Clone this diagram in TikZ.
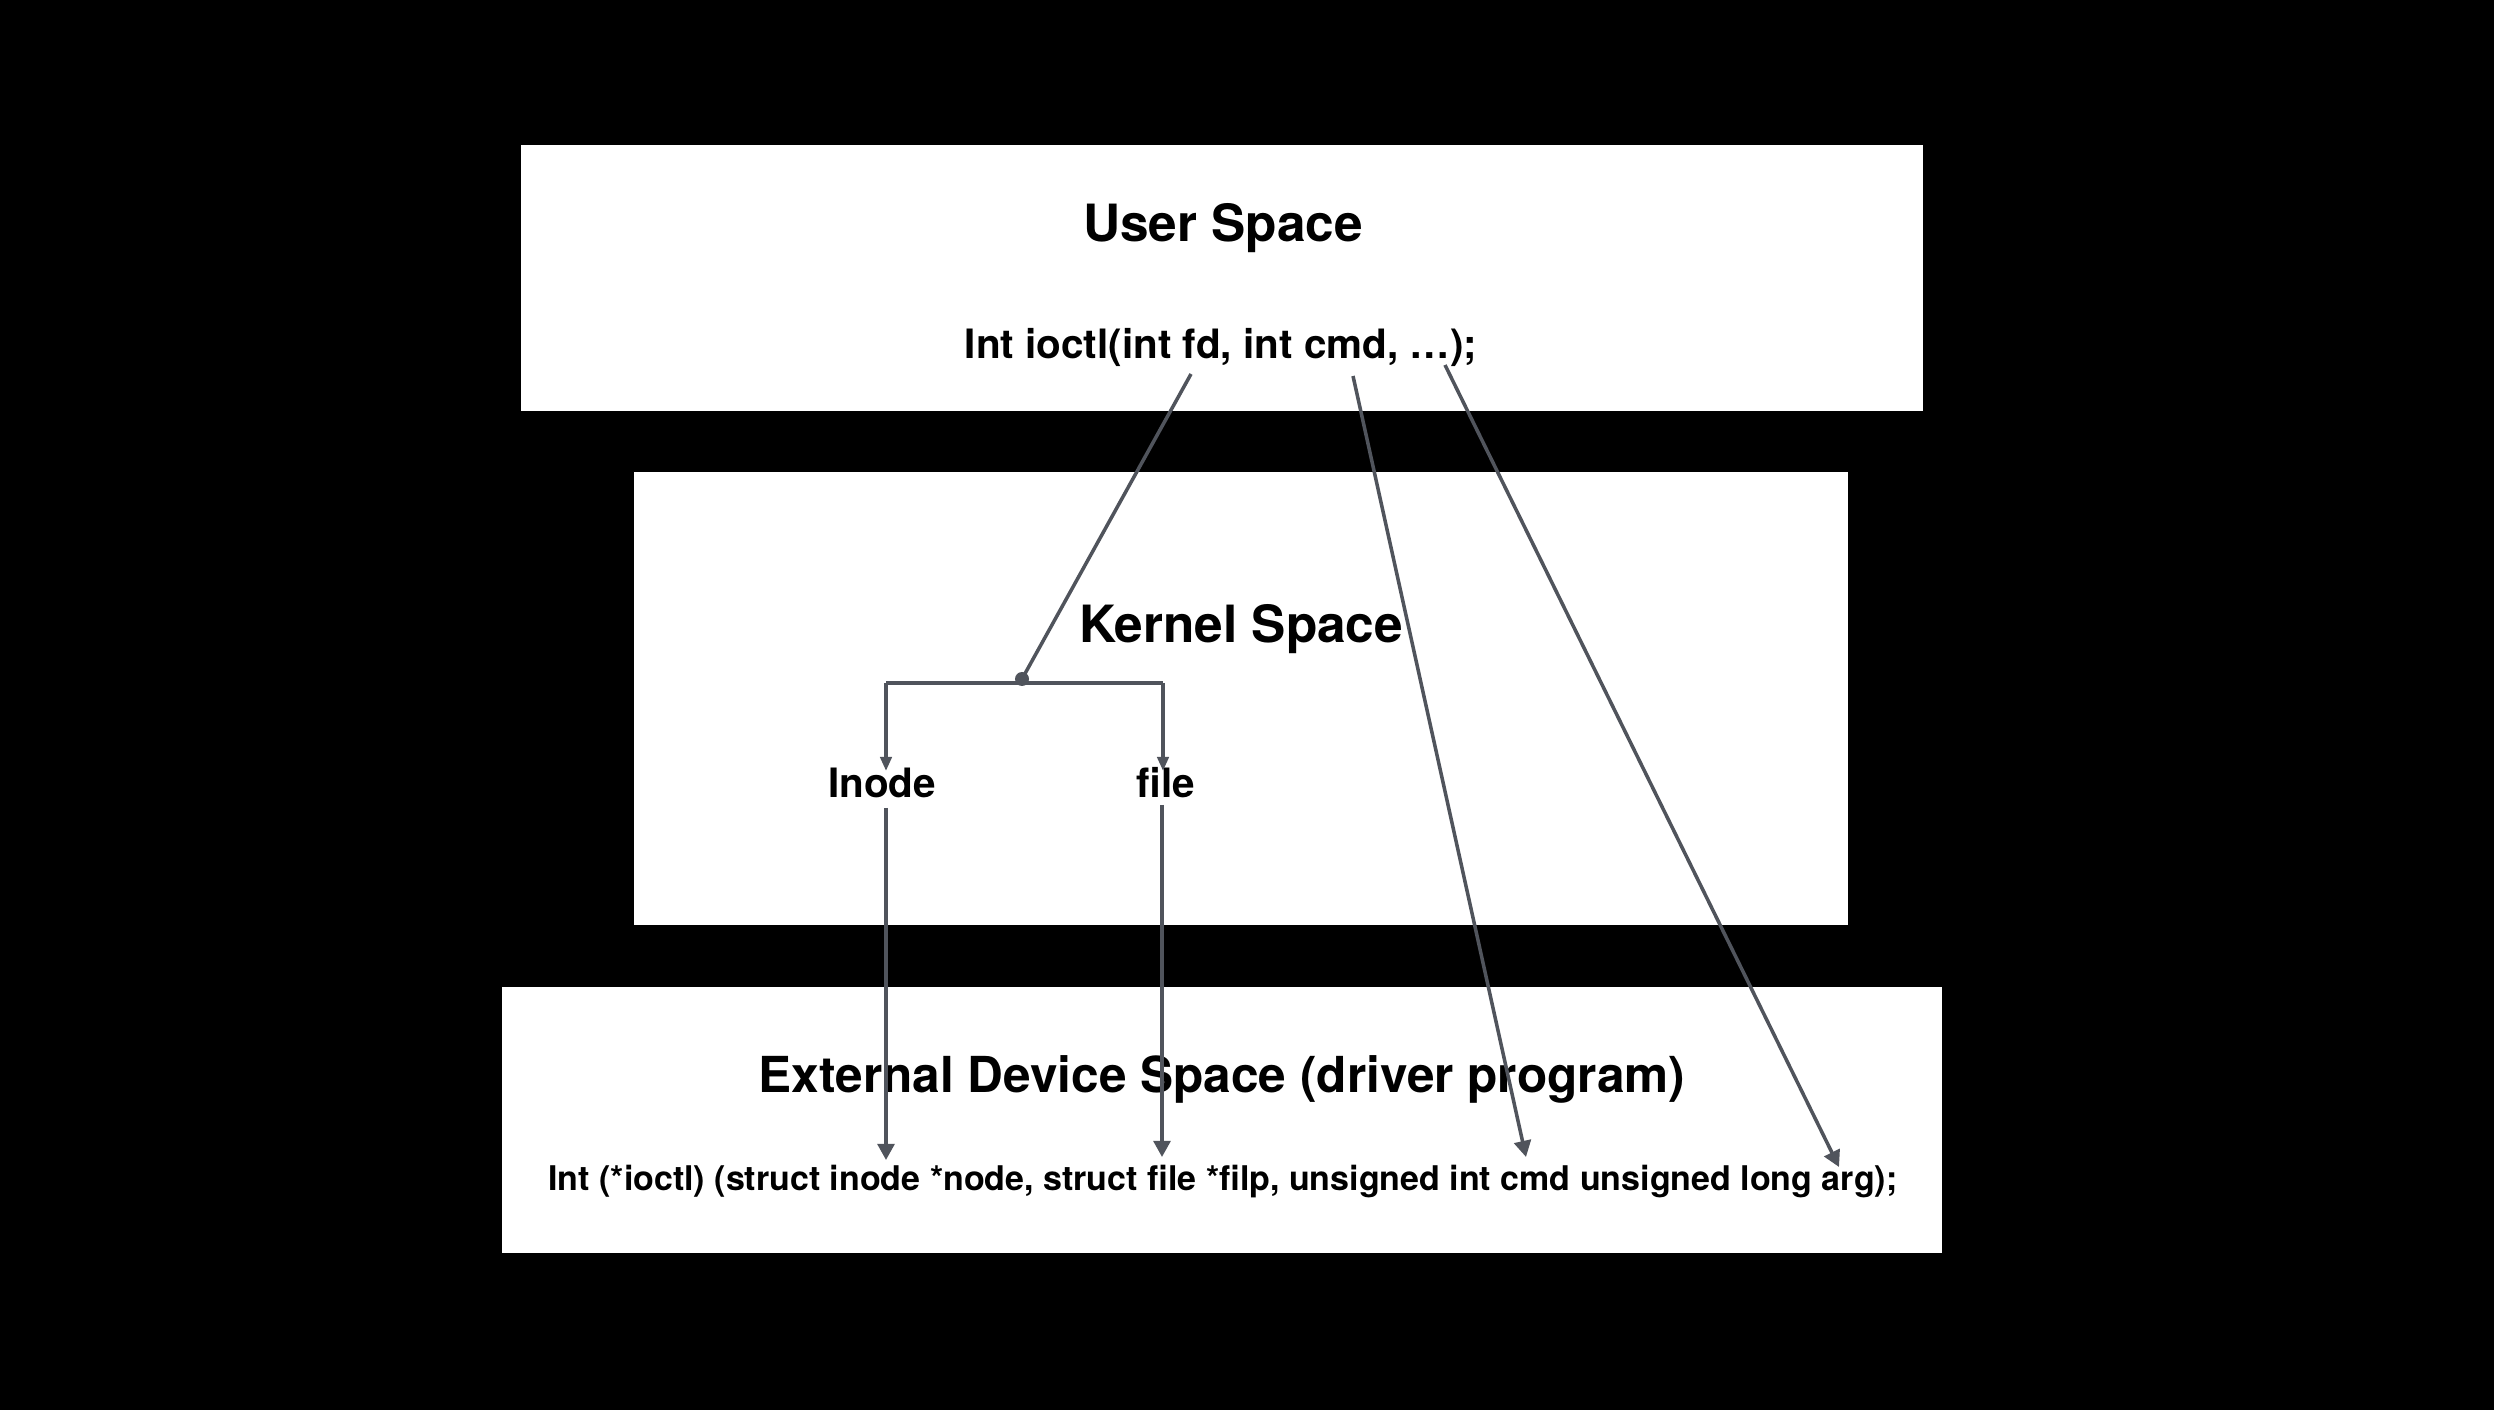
\documentclass[tikz,border=0pt]{standalone}
\usepackage{fontspec}
\setmainfont{TeX Gyre Heros}
\usetikzlibrary{arrows.meta}
\definecolor{linec}{RGB}{80,84,92}
\tikzset{
  panel/.style={fill=white,draw=none},
  lbl/.style={anchor=base,inner sep=0pt,text=black},
  title/.style={lbl,font=\fontsize{14.6pt}{16pt}\selectfont\bfseries},
  code/.style={lbl,font=\fontsize{11.5pt}{13pt}\selectfont\bfseries},
  smallcode/.style={lbl,font=\fontsize{9.67pt}{11pt}\selectfont\bfseries},
  conn/.style={draw=linec,line width=1pt},
  bigarrow/.style={conn,-{Triangle[length=4.6pt,width=4.8pt]}},
  smallarrow/.style={conn,-{Triangle[length=4pt,width=3.2pt]}},
}
\begin{document}
\begin{tikzpicture}[x=0.01cm,y=-0.01cm]
\useasboundingbox (0,0) rectangle (2494,1410);
\fill[black] (0,0) rectangle (2494,1410);
% panels
\path[panel] (521,145) rectangle (1923,411);
\path[panel] (634,472) rectangle (1848,925);
\path[panel] (502,987) rectangle (1942,1253);
% texts
\node[title] (user) at (1223,242) {User Space};
\node[code] (ioctl) at (1221,359) {Int ioctl(int fd, int cmd, …);};
\node[title] (kernel) at (1241,643) {Kernel Space};
\node[code] (inode) at (882,798) {Inode};
\node[code] (file) at (1166,798) {file};
\node[title,font=\fontsize{14.1pt}{16pt}\selectfont\bfseries] (ext) at (1222,1092) {External Device Space (driver program)};
\node[smallcode] (drv) at (1223,1190) {Int (*ioctl) (struct inode *node, struct file *filp, unsigned int cmd unsigned long arg);};
% coordinates
\coordinate (fd) at (1191,374);
\coordinate (cmd) at (1353,376);
\coordinate (dots) at (1445,365);
\coordinate (junc) at (1022,683);
\coordinate (barL) at (886,683);
\coordinate (barR) at (1163,683);
\coordinate (inodeTop) at (886,771);
\coordinate (fileTop) at (1163,771);
\coordinate (inodeBot) at (886,808);
\coordinate (fileBot) at (1162,805);
\coordinate (drvInode) at (886,1160);
\coordinate (drvFile) at (1162,1157);
\coordinate (drvCmd) at (1526,1157);
\coordinate (drvArg) at (1839,1167);
% connectors
\draw[conn] (fd) -- (1022,679);
\draw[conn] (barL) -- (barR);
\fill[linec] (1022,679) circle[radius=7];
\draw[smallarrow] (barL) -- (inodeTop);
\draw[smallarrow] (barR) -- (fileTop);
\draw[bigarrow] (inodeBot) -- (drvInode);
\draw[bigarrow] (fileBot) -- (drvFile);
\draw[bigarrow] (cmd) -- (drvCmd);
\draw[bigarrow] (dots) -- (drvArg);
\end{tikzpicture}
\end{document}
